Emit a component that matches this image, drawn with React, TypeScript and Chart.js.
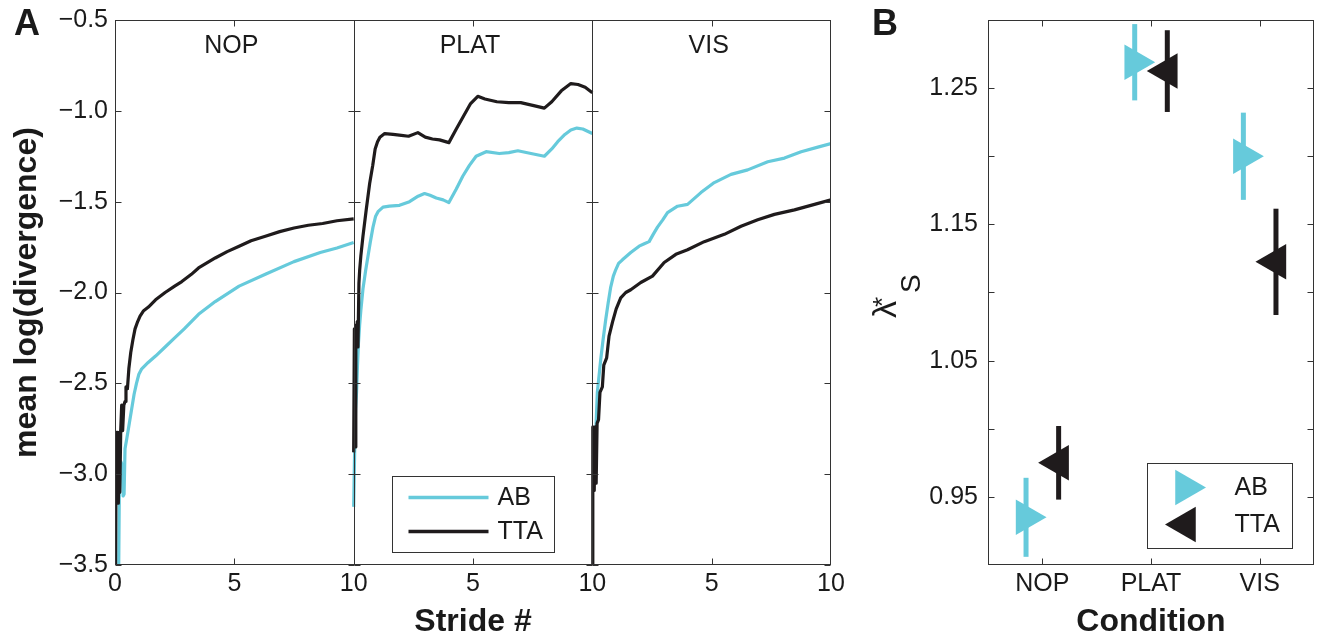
import React, { useEffect, useRef } from 'react';
import { Chart, registerables } from 'chart.js';

Chart.register(...registerables);

const FONT = "'Liberation Sans', Arial, Helvetica, sans-serif";
const CYAN = '#66CADB';
const BLACK = '#1F1B1C';
const AXIS = '#333333';
const TEXT = '#1A1A1A';

// ---------- shared ----------
const CONDITIONS = ['NOP', 'PLAT', 'VIS'];
const SERIES_NAMES = ['AB', 'TTA'];
const SERIES_COLORS = [CYAN, BLACK];

// ---------- panel A : mean log(divergence) vs stride ----------
const STRIDE_TICKS = [0, 5, 10];
const DIV_TICKS = [-3.5, -3.0, -2.5, -2.0, -1.5, -1.0, -0.5];

const NOP_AB_STRIDE = [0.15, 0.19, 0.24, 0.30, 0.34, 0.38, 0.42, 0.50, 0.60, 0.70, 0.80, 0.90, 1.0, 1.12, 1.39, 1.7, 2.1, 2.5, 2.9, 3.5, 4.2, 5.2, 6.3, 7.5, 8.6, 9.3, 10];
const NOP_AB = [-3.6, -2.95, -2.93, -2.95, -3.12, -3.11, -2.86, -2.80, -2.72, -2.64, -2.56, -2.50, -2.45, -2.42, -2.385, -2.35, -2.30, -2.25, -2.20, -2.12, -2.05, -1.965, -1.90, -1.83, -1.78, -1.755, -1.725];

const NOP_TTA_STRIDE = [0.02, 0.05, 0.08, 0.11, 0.14, 0.17, 0.20, 0.24, 0.28, 0.32, 0.37, 0.42, 0.46, 0.52, 0.58, 0.66, 0.75, 0.84, 0.95, 1.05, 1.2, 1.4, 1.7, 2.1, 2.5, 2.8, 3.2, 3.5, 4.2, 4.7, 5.2, 5.7, 6.3, 6.9, 7.5, 8.1, 8.7, 9.3, 10];
const NOP_TTA = [-3.6, -2.77, -3.16, -2.77, -3.16, -2.77, -3.10, -2.76, -2.62, -2.76, -2.62, -2.60, -2.52, -2.53, -2.42, -2.33, -2.26, -2.20, -2.16, -2.13, -2.10, -2.08, -2.04, -2.00, -1.965, -1.94, -1.90, -1.865, -1.81, -1.775, -1.745, -1.715, -1.69, -1.665, -1.645, -1.63, -1.62, -1.605, -1.595];

const PLAT_AB_STRIDE = [0.0, 0.04, 0.08, 0.12, 0.16, 0.2, 0.25, 0.3, 0.39, 0.5, 0.6, 0.7, 0.81, 0.92, 1.02, 1.23, 1.5, 1.92, 2.34, 2.7, 2.97, 3.2, 3.46, 3.75, 3.99, 4.3, 4.57, 4.85, 5.13, 5.55, 6.1, 6.5, 6.88, 7.43, 7.99, 8.3, 8.55, 8.85, 9.1, 9.35, 9.6, 10];
const PLAT_AB = [-3.18, -2.88, -2.64, -2.55, -2.40, -2.28, -2.18, -2.10, -1.98, -1.88, -1.80, -1.72, -1.64, -1.58, -1.555, -1.53, -1.525, -1.52, -1.50, -1.47, -1.455, -1.465, -1.48, -1.49, -1.505, -1.43, -1.36, -1.30, -1.25, -1.225, -1.235, -1.23, -1.22, -1.235, -1.25, -1.21, -1.17, -1.13, -1.105, -1.095, -1.10, -1.125];

const PLAT_TTA_STRIDE = [0.0, 0.03, 0.06, 0.09, 0.12, 0.15, 0.18, 0.22, 0.25, 0.3, 0.39, 0.53, 0.67, 0.8, 0.9, 1.0, 1.1, 1.3, 1.65, 2.0, 2.3, 2.69, 3.0, 3.3, 3.6, 3.99, 4.3, 4.6, 4.9, 5.2, 5.5, 6.0, 6.5, 7.0, 7.5, 7.99, 8.3, 8.7, 9.1, 9.4, 9.7, 10];
const PLAT_TTA = [-2.88, -2.20, -2.85, -2.18, -2.30, -2.16, -2.30, -1.95, -1.88, -1.80, -1.69, -1.54, -1.40, -1.30, -1.21, -1.17, -1.145, -1.125, -1.13, -1.135, -1.14, -1.12, -1.145, -1.155, -1.16, -1.175, -1.10, -1.03, -0.96, -0.92, -0.935, -0.95, -0.955, -0.955, -0.97, -0.985, -0.95, -0.89, -0.85, -0.855, -0.87, -0.90];

const VIS_AB_STRIDE = [0.1, 0.15, 0.21, 0.28, 0.35, 0.45, 0.56, 0.66, 0.77, 0.88, 0.98, 1.1, 1.26, 1.61, 1.96, 2.2, 2.38, 2.55, 2.73, 2.95, 3.15, 3.57, 3.99, 4.55, 5.11, 5.81, 6.51, 7.35, 8.05, 8.75, 9.45, 10];
const VIS_AB = [-3.0, -2.75, -2.55, -2.46, -2.37, -2.26, -2.15, -2.06, -1.97, -1.91, -1.875, -1.84, -1.82, -1.78, -1.745, -1.73, -1.72, -1.68, -1.64, -1.60, -1.56, -1.525, -1.515, -1.45, -1.395, -1.35, -1.325, -1.28, -1.26, -1.225, -1.20, -1.18];

const VIS_TTA_STRIDE = [0.0, 0.02, 0.08, 0.12, 0.16, 0.2, 0.26, 0.32, 0.42, 0.48, 0.6, 0.7, 0.85, 1.0, 1.19, 1.4, 1.61, 2.03, 2.52, 3.01, 3.5, 3.99, 4.69, 5.53, 6.23, 6.93, 7.63, 8.47, 9.31, 10];
const VIS_TTA = [-3.6, -2.74, -3.09, -2.74, -3.05, -2.72, -2.70, -2.55, -2.52, -2.40, -2.36, -2.24, -2.16, -2.09, -2.03, -2.00, -1.985, -1.945, -1.91, -1.835, -1.79, -1.765, -1.72, -1.68, -1.635, -1.60, -1.57, -1.545, -1.515, -1.49];

// ---------- panel B : lambda*_S per condition ----------
const AB_LAMBDA = [0.935, 1.269, 1.200];
const AB_ERR = [0.029, 0.028, 0.032];
const TTA_LAMBDA = [0.975, 1.2625, 1.1225];
const TTA_ERR = [0.027, 0.030, 0.039];
const LAMBDA_TICKS = [0.95, 1.0, 1.05, 1.1, 1.15, 1.2, 1.25];
const LAMBDA_TICK_LABELS = ['0.95', '', '1.05', '', '1.15', '', '1.25'];
const GROUP_OFFSET = [-0.15, 0.15];

const PANEL_WIDTH = 10;

const PANEL_A_SERIES = [
  { cond: 0, who: 0, s: NOP_AB_STRIDE, v: NOP_AB },
  { cond: 0, who: 1, s: NOP_TTA_STRIDE, v: NOP_TTA },
  { cond: 1, who: 0, s: PLAT_AB_STRIDE, v: PLAT_AB },
  { cond: 1, who: 1, s: PLAT_TTA_STRIDE, v: PLAT_TTA },
  { cond: 2, who: 0, s: VIS_AB_STRIDE, v: VIS_AB },
  { cond: 2, who: 1, s: VIS_TTA_STRIDE, v: VIS_TTA },
];

function line(ctx: CanvasRenderingContext2D, x1: number, y1: number, x2: number, y2: number) {
  ctx.beginPath();
  ctx.moveTo(x1, y1);
  ctx.lineTo(x2, y2);
  ctx.stroke();
}

function tri(ctx: CanvasRenderingContext2D, cx: number, cy: number, r: number, rotDeg: number) {
  let rad = (rotDeg * Math.PI) / 180;
  ctx.beginPath();
  for (let k = 0; k < 3; k++) {
    const px = cx + Math.sin(rad) * r;
    const py = cy - Math.cos(rad) * r;
    if (k === 0) ctx.moveTo(px, py);
    else ctx.lineTo(px, py);
    rad += (2 * Math.PI) / 3;
  }
  ctx.closePath();
  ctx.fill();
}

const TICK_LEN = 6;

const zeroVPad = (s: any, w: number) => { s.width = w; s.paddingTop = 0; s.paddingBottom = 0; };
const zeroHPad = (s: any, h: number) => { s.height = h; s.paddingLeft = 0; s.paddingRight = 0; };

const panelADecor = {
  id: 'panelADecor',
  afterDatasetsDraw(chart: any) {
    const { ctx, chartArea: a, scales } = chart;
    const x = scales.x;
    const y = scales.y;
    ctx.save();
    ctx.strokeStyle = AXIS;
    ctx.lineWidth = 1;
    const L = Math.round(a.left) + 0.5;
    const R = Math.round(a.right) - 0.5;
    const T = Math.round(a.top) + 0.5;
    const B = Math.round(a.bottom) - 0.5;
    ctx.strokeRect(L, T, R - L, B - T);
    for (let i = 0; i <= CONDITIONS.length; i++) {
      const bx = Math.round(x.getPixelForValue(i * PANEL_WIDTH)) + (i === CONDITIONS.length ? -0.5 : 0.5);
      if (i > 0 && i < CONDITIONS.length) line(ctx, bx, T, bx, B);
      for (const v of DIV_TICKS) {
        const py = Math.round(y.getPixelForValue(v)) + 0.5;
        if (i < CONDITIONS.length) line(ctx, bx, py, bx + TICK_LEN, py);
        if (i > 0) line(ctx, bx - TICK_LEN, py, bx, py);
      }
    }
    for (let i = 0; i < CONDITIONS.length; i++) {
      for (const s of STRIDE_TICKS) {
        if (s === 0 || s === PANEL_WIDTH) continue;
        const px = Math.round(x.getPixelForValue(i * PANEL_WIDTH + s)) + 0.5;
        line(ctx, px, B, px, B - TICK_LEN);
        line(ctx, px, T, px, T + TICK_LEN);
      }
    }
    // panel titles
    ctx.fillStyle = TEXT;
    ctx.font = `25px ${FONT}`;
    ctx.textAlign = 'center';
    ctx.textBaseline = 'alphabetic';
    for (let i = 0; i < CONDITIONS.length; i++) {
      const cx = (x.getPixelForValue(i * PANEL_WIDTH) + x.getPixelForValue((i + 1) * PANEL_WIDTH)) / 2;
      ctx.fillText(CONDITIONS[i], cx - 3, a.top + 33);
    }
    // legend
    const lx = Math.round(a.left + 277) + 0.5;
    const ly = Math.round(a.top + 456) + 0.5;
    ctx.strokeRect(lx, ly, 162, 76);
    ctx.textAlign = 'left';
    ctx.textBaseline = 'middle';
    SERIES_NAMES.forEach((name, k) => {
      const yy = ly + 21 + k * 34;
      ctx.strokeStyle = SERIES_COLORS[k];
      ctx.lineWidth = 3.5;
      line(ctx, lx + 16, yy, lx + 96, yy);
      ctx.fillStyle = TEXT;
      ctx.fillText(name, lx + 105, yy + 1);
    });
    // panel letter
    ctx.font = `bold 36px ${FONT}`;
    ctx.textAlign = 'left';
    ctx.textBaseline = 'alphabetic';
    ctx.fillText('A', 14, 35);
    ctx.restore();
  },
};

const panelBDecor = {
  id: 'panelBDecor',
  beforeDatasetsDraw(chart: any) {
    const { ctx, scales } = chart;
    const x = scales.x;
    const y = scales.y;
    ctx.save();
    ctx.lineWidth = 5;
    ctx.lineCap = 'butt';
    chart.data.datasets.forEach((ds: any) => {
      ctx.strokeStyle = ds.backgroundColor;
      ds.data.forEach((p: any, i: number) => {
        const px = x.getPixelForValue(p.x);
        line(ctx, px, y.getPixelForValue(p.y - ds.errors[i]), px, y.getPixelForValue(p.y + ds.errors[i]));
      });
    });
    ctx.restore();
  },
  afterDatasetsDraw(chart: any) {
    const { ctx, chartArea: a, scales } = chart;
    const x = scales.x;
    const y = scales.y;
    ctx.save();
    ctx.strokeStyle = AXIS;
    ctx.lineWidth = 1;
    const L = Math.round(a.left) + 0.5;
    const R = Math.round(a.right) - 0.5;
    const T = Math.round(a.top) + 0.5;
    const B = Math.round(a.bottom) - 0.5;
    ctx.strokeRect(L, T, R - L, B - T);
    CONDITIONS.forEach((_, i) => {
      const px = Math.round(x.getPixelForValue(i + 1)) + 0.5;
      line(ctx, px, B, px, B - TICK_LEN);
      line(ctx, px, T, px, T + TICK_LEN);
    });
    LAMBDA_TICKS.forEach((v) => {
      const py = Math.round(y.getPixelForValue(v)) + 0.5;
      line(ctx, L, py, L + TICK_LEN, py);
      line(ctx, R - TICK_LEN, py, R, py);
    });
    // legend
    const lx = Math.round(a.left + 159) + 0.5;
    const ly = Math.round(a.top + 443) + 0.5;
    ctx.strokeRect(lx, ly, 145, 85);
    ctx.font = `25px ${FONT}`;
    ctx.textAlign = 'left';
    ctx.textBaseline = 'middle';
    chart.data.datasets.forEach((ds: any, k: number) => {
      const yy = ly + 24 + k * 37;
      ctx.fillStyle = ds.backgroundColor;
      tri(ctx, lx + 38, yy, ds.pointRadius, ds.pointRotation);
      ctx.fillStyle = TEXT;
      ctx.fillText(ds.label, lx + 87, yy + 1);
    });
    // y-axis title  λ*S (rotated)
    ctx.save();
    ctx.translate(36, 318);
    ctx.rotate(-Math.PI / 2);
    ctx.fillStyle = TEXT;
    ctx.textBaseline = 'alphabetic';
    ctx.font = `34px ${FONT}`;
    ctx.fillText('λ', 0, 0);
    const w = ctx.measureText('λ').width;
    ctx.font = `26px ${FONT}`;
    ctx.fillText('*', w - 6, -5);
    ctx.font = `28px ${FONT}`;
    ctx.fillText('S', w + 8, 24);
    ctx.restore();
    // panel letter
    ctx.fillStyle = TEXT;
    ctx.font = `bold 36px ${FONT}`;
    ctx.textAlign = 'left';
    ctx.textBaseline = 'alphabetic';
    ctx.fillText('B', 12, 35);
    ctx.restore();
  },
};

function PanelA() {
  const ref = useRef<HTMLCanvasElement>(null);
  useEffect(() => {
    const datasets = PANEL_A_SERIES.map((sr) => ({
      label: SERIES_NAMES[sr.who],
      data: sr.s.map((s, i) => ({ x: sr.cond * PANEL_WIDTH + s, y: sr.v[i] })),
      borderColor: SERIES_COLORS[sr.who],
      backgroundColor: SERIES_COLORS[sr.who],
      borderWidth: 3.2,
      pointRadius: 0,
      tension: 0,
      borderJoinStyle: 'round' as const,
      order: sr.who === 1 ? 0 : 1,
    }));
    const chart = new Chart(ref.current!, {
      type: 'line',
      data: { datasets },
      options: {
        animation: false,
        responsive: false,
        devicePixelRatio: 1,
        layout: { autoPadding: false, padding: { left: 0, top: 20, right: 29, bottom: 0 } },
        plugins: { legend: { display: false }, tooltip: { enabled: false } },
        scales: {
          x: {
            type: 'linear',
            min: 0,
            max: PANEL_WIDTH * CONDITIONS.length,
            afterBuildTicks: (s: any) => {
              const vals: number[] = [];
              CONDITIONS.forEach((_, i) => STRIDE_TICKS.forEach((t) => {
                const v = i * PANEL_WIDTH + t;
                if (!vals.includes(v)) vals.push(v);
              }));
              s.ticks = vals.map((v) => ({ value: v }));
            },
            afterFit: (s: any) => zeroHPad(s, 78),
            grid: { display: false, drawTicks: false },
            border: { display: false },
            ticks: {
              font: { family: FONT, size: 25 },
              color: TEXT,
              padding: 4,
              maxRotation: 0,
              autoSkip: false,
              callback: (v: any) => {
                const n = Number(v);
                const k = Math.max(0, Math.ceil(n / PANEL_WIDTH) - 1);
                return String(n - k * PANEL_WIDTH);
              },
            },
            title: {
              display: true,
              text: 'Stride #',
              font: { family: FONT, size: 32, weight: 'bold' },
              color: TEXT,
              padding: { top: 0, bottom: 2 },
            },
          },
          y: {
            type: 'linear',
            min: DIV_TICKS[0],
            max: DIV_TICKS[DIV_TICKS.length - 1],
            afterBuildTicks: (s: any) => { s.ticks = DIV_TICKS.map((v) => ({ value: v })); },
            afterFit: (s: any) => zeroVPad(s, 115),
            grid: { display: false, drawTicks: false },
            border: { display: false },
            ticks: {
              font: { family: FONT, size: 25 },
              color: TEXT,
              padding: 7,
              callback: (v: any) => {
                const n = Number(v);
                return (n < 0 ? '\u2212' : '') + Math.abs(n).toFixed(1);
              },
            },
            title: {
              display: true,
              text: 'mean log(divergence)',
              font: { family: FONT, size: 32, weight: 'bold' },
              color: TEXT,
              padding: { top: 8, bottom: 0 },
            },
          },
        },
      },
      plugins: [panelADecor],
    });
    return () => chart.destroy();
  }, []);
  return (
    <canvas
      ref={ref}
      width={860}
      height={643}
      style={{ position: 'absolute', left: 0, top: 0, width: 860, height: 643 }}
    />
  );
}

function PanelB() {
  const ref = useRef<HTMLCanvasElement>(null);
  useEffect(() => {
    const means = [AB_LAMBDA, TTA_LAMBDA];
    const errs = [AB_ERR, TTA_ERR];
    const datasets = SERIES_NAMES.map((name, k) => ({
      label: name,
      data: CONDITIONS.map((_, i) => ({ x: i + 1 + GROUP_OFFSET[k], y: means[k][i] })),
      errors: errs[k],
      backgroundColor: SERIES_COLORS[k],
      borderColor: SERIES_COLORS[k],
      pointStyle: 'triangle',
      pointRotation: k === 0 ? 90 : -90,
      pointRadius: 20.5,
      pointHoverRadius: 20.5,
      pointBorderWidth: 0,
      borderWidth: 0,
      order: k === 1 ? 0 : 1,
    }));
    const chart = new Chart(ref.current!, {
      type: 'scatter',
      data: { datasets } as any,
      options: {
        animation: false,
        responsive: false,
        devicePixelRatio: 1,
        layout: { autoPadding: false, padding: { left: 0, top: 20, right: 10, bottom: 0 } },
        plugins: { legend: { display: false }, tooltip: { enabled: false } },
        scales: {
          x: {
            type: 'linear',
            min: 0.5,
            max: CONDITIONS.length + 0.5,
            afterBuildTicks: (s: any) => { s.ticks = CONDITIONS.map((_, i) => ({ value: i + 1 })); },
            afterFit: (s: any) => zeroHPad(s, 78),
            grid: { display: false, drawTicks: false },
            border: { display: false },
            ticks: {
              font: { family: FONT, size: 25 },
              color: TEXT,
              padding: 4,
              maxRotation: 0,
              autoSkip: false,
              callback: (v: any) => CONDITIONS[Math.round(Number(v)) - 1] ?? '',
            },
            title: {
              display: true,
              text: 'Condition',
              font: { family: FONT, size: 32, weight: 'bold' },
              color: TEXT,
              padding: { top: 0, bottom: 2 },
            },
          },
          y: {
            type: 'linear',
            min: 0.9,
            max: 1.3,
            afterBuildTicks: (s: any) => { s.ticks = LAMBDA_TICKS.map((v) => ({ value: v })); },
            afterFit: (s: any) => zeroVPad(s, 128),
            grid: { display: false, drawTicks: false },
            border: { display: false },
            ticks: {
              font: { family: FONT, size: 25 },
              color: TEXT,
              padding: 10,
              autoSkip: false,
              callback: (_v: any, i: number) => LAMBDA_TICK_LABELS[i],
            },
          },
        },
      },
      plugins: [panelBDecor],
    });
    return () => chart.destroy();
  }, []);
  return (
    <canvas
      ref={ref}
      width={464}
      height={643}
      style={{ position: 'absolute', left: 860, top: 0, width: 464, height: 643 }}
    />
  );
}

export default function App() {
  return (
    <div style={{ position: 'absolute', left: 0, top: 0, width: 1324, height: 643, background: '#ffffff' }}>
      <PanelA />
      <PanelB />
    </div>
  );
}
